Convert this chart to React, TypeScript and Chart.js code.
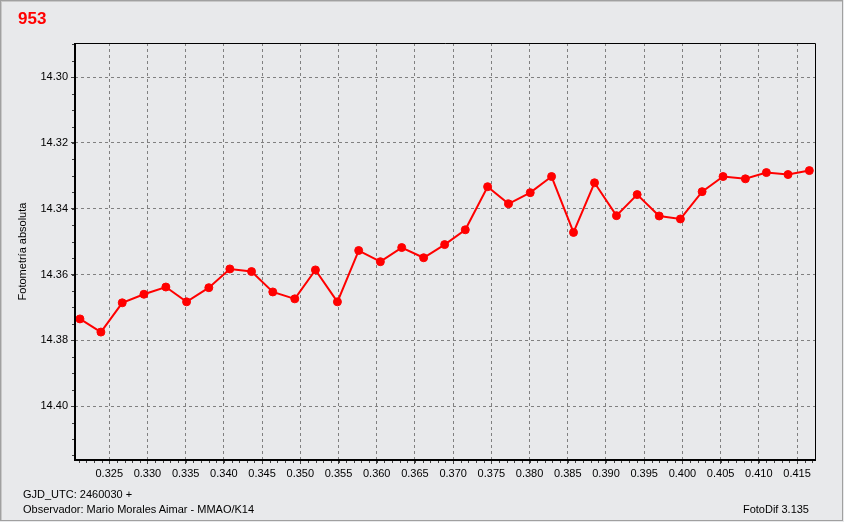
import React, { useEffect, useRef } from "react";
import { Chart, registerables } from "chart.js";

Chart.register(...registerables);

const chartTitle = "953";
const yAxisTitle = "Fotometría absoluta";
const footerLine1 = "GJD_UTC: 2460030 +";
const footerLine2 = "Observador: Mario Morales Aimar - MMAO/K14";
const footerRight = "FotoDif 3.135";

// GJD_UTC - 2460030
const gjdOffsets = [
  0.32117, 0.32391, 0.3267, 0.32954, 0.33241, 0.33512, 0.33803, 0.34078,
  0.34362, 0.3464, 0.34928, 0.35198, 0.35486, 0.35764, 0.36048, 0.36327,
  0.36614, 0.36889, 0.37159, 0.37451, 0.37725, 0.38009, 0.38288, 0.38575,
  0.3885, 0.39137, 0.39408, 0.39696, 0.39974, 0.40258, 0.40532, 0.40824,
  0.41099, 0.41382, 0.41661,
];

// absolute magnitude
const magnitudes = [
  14.3735, 14.3775, 14.3686, 14.366, 14.3638, 14.3683, 14.364, 14.3583,
  14.3591, 14.3653, 14.3674, 14.3586, 14.3683, 14.3527, 14.3561, 14.3518,
  14.3549, 14.3509, 14.3464, 14.3333, 14.3385, 14.3351, 14.3302, 14.3472,
  14.3321, 14.3421, 14.3357, 14.3422, 14.3431, 14.3348, 14.3302, 14.3309,
  14.329, 14.3296, 14.3284,
];

const xTickValues = [
  0.325, 0.33, 0.335, 0.34, 0.345, 0.35, 0.355, 0.36, 0.365, 0.37, 0.375,
  0.38, 0.385, 0.39, 0.395, 0.4, 0.405, 0.41, 0.415,
];
const yTickValues = [14.3, 14.32, 14.34, 14.36, 14.38, 14.4];
const xRange = [0.32052, 0.41735];
const yRange = [14.2896, 14.4164];

const FONT = "'Liberation Sans', Arial, sans-serif";

const framePlugin = {
  id: "frame",
  afterDraw(chart: any) {
    const { ctx, chartArea: a, scales } = chart;
    const xs = scales.x;
    const ys = scales.y;
    ctx.save();
    ctx.strokeStyle = "#404040";
    ctx.lineWidth = 1;
    for (let i = Math.ceil(xs.min * 1000); i <= Math.floor(xs.max * 1000); i++) {
      const px = Math.round(xs.getPixelForValue(i / 1000)) + 0.5;
      ctx.beginPath();
      ctx.moveTo(px, a.bottom);
      ctx.lineTo(px, a.bottom + 3);
      ctx.stroke();
    }
    for (let i = Math.ceil(ys.min * 200); i <= Math.floor(ys.max * 200); i++) {
      const py = Math.round(ys.getPixelForValue(i / 200)) + 0.5;
      ctx.beginPath();
      ctx.moveTo(a.left - 3, py);
      ctx.lineTo(a.left, py);
      ctx.stroke();
    }
    ctx.strokeStyle = "#000";
    ctx.lineWidth = 1;
    const l = Math.round(a.left);
    const t = Math.round(a.top);
    const r = Math.round(a.right);
    const b = Math.round(a.bottom);
    ctx.beginPath();
    ctx.moveTo(l, t + 0.5);
    ctx.lineTo(r + 0.5, t + 0.5);
    ctx.lineTo(r + 0.5, b);
    ctx.stroke();
    ctx.lineWidth = 2;
    ctx.beginPath();
    ctx.moveTo(l, t);
    ctx.lineTo(l, b);
    ctx.lineTo(r + 1, b);
    ctx.stroke();
    ctx.restore();
  },
};

export default function App() {
  const canvasRef = useRef<HTMLCanvasElement | null>(null);

  useEffect(() => {
    if (!canvasRef.current) return;
    const points = gjdOffsets.map((x, i) => ({ x, y: magnitudes[i] }));
    const chart = new Chart(canvasRef.current, {
      type: "line",
      data: {
        datasets: [
          {
            data: points,
            borderColor: "#ff0000",
            backgroundColor: "#ff0000",
            borderWidth: 2,
            pointRadius: 4,
            pointBorderWidth: 1,
            pointBackgroundColor: "#ff0000",
            pointBorderColor: "#ff0000",
            tension: 0,
          },
        ],
      },
      options: {
        animation: false,
        responsive: false,
        devicePixelRatio: 1,
        layout: { padding: { left: 10, right: 29, top: 43, bottom: 0 } },
        plugins: {
          legend: { display: false },
          tooltip: { enabled: false },
          title: { display: false },
        },
        scales: {
          x: {
            type: "linear",
            min: xRange[0],
            max: xRange[1],
            afterBuildTicks: (scale: any) => {
              scale.ticks = xTickValues.map((v) => ({ value: v }));
            },
            afterFit: (scale: any) => {
              scale.height = 62;
            },
            border: { display: false, dash: [3, 3] },
            grid: {
              color: "#808080",
              lineWidth: 1,
              drawTicks: true,
              tickLength: 4,
              tickColor: "#404040",
              tickBorderDash: [],
            } as any,
            ticks: {
              color: "#000",
              font: { family: FONT, size: 11 },
              padding: 3,
              maxRotation: 0,
              autoSkip: false,
              callback: (v: any) => Number(v).toFixed(3),
            },
          },
          y: {
            type: "linear",
            reverse: true,
            min: yRange[0],
            max: yRange[1],
            afterBuildTicks: (scale: any) => {
              scale.ticks = yTickValues.map((v) => ({ value: v }));
            },
            afterFit: (scale: any) => {
              scale.width = 65;
            },
            border: { display: false, dash: [3, 3] },
            grid: {
              color: "#808080",
              lineWidth: 1,
              drawTicks: true,
              tickLength: 4,
              tickColor: "#404040",
              tickBorderDash: [],
            } as any,
            title: {
              display: true,
              text: yAxisTitle,
              color: "#000",
              font: { family: FONT, size: 11 },
              padding: { top: 6, bottom: 0 },
            },
            ticks: {
              color: "#000",
              font: { family: FONT, size: 11 },
              padding: 3,
              autoSkip: false,
              callback: (v: any) => Number(v).toFixed(2),
            },
          },
        },
      },
      plugins: [framePlugin],
    });
    return () => chart.destroy();
  }, []);

  return (
    <div
      style={{
        position: "fixed",
        left: 0,
        top: 0,
        width: 844,
        height: 522,
        background: "#e8e9eb",
        overflow: "hidden",
      }}
    >
      <canvas
        ref={canvasRef}
        width={844}
        height={522}
        style={{ position: "absolute", left: 0, top: 0, width: 844, height: 522 }}
      />
      <div
        style={{
          position: "absolute",
          left: 0,
          top: 0,
          width: 843,
          height: 521,
          boxSizing: "border-box",
          border: "1px solid #a0a0a0",
          boxShadow: "inset 1px 1px 0 #c8c8c8",
          pointerEvents: "none",
        }}
      />
      <div
        style={{
          position: "absolute",
          left: 18,
          top: 10,
          fontFamily: FONT,
          fontWeight: "bold",
          fontSize: 17,
          lineHeight: "17px",
          color: "#ff0000",
        }}
      >
        {chartTitle}
      </div>
      <div
        style={{
          position: "absolute",
          left: 23,
          top: 488,
          fontFamily: FONT,
          fontSize: 11,
          lineHeight: "13px",
          color: "#000",
          whiteSpace: "nowrap",
        }}
      >
        {footerLine1}
      </div>
      <div
        style={{
          position: "absolute",
          left: 23,
          top: 503,
          fontFamily: FONT,
          fontSize: 11,
          lineHeight: "13px",
          color: "#000",
          whiteSpace: "nowrap",
        }}
      >
        {footerLine2}
      </div>
      <div
        style={{
          position: "absolute",
          right: 35,
          top: 503,
          fontFamily: FONT,
          fontSize: 11,
          lineHeight: "13px",
          color: "#000",
          whiteSpace: "nowrap",
        }}
      >
        {footerRight}
      </div>
    </div>
  );
}
